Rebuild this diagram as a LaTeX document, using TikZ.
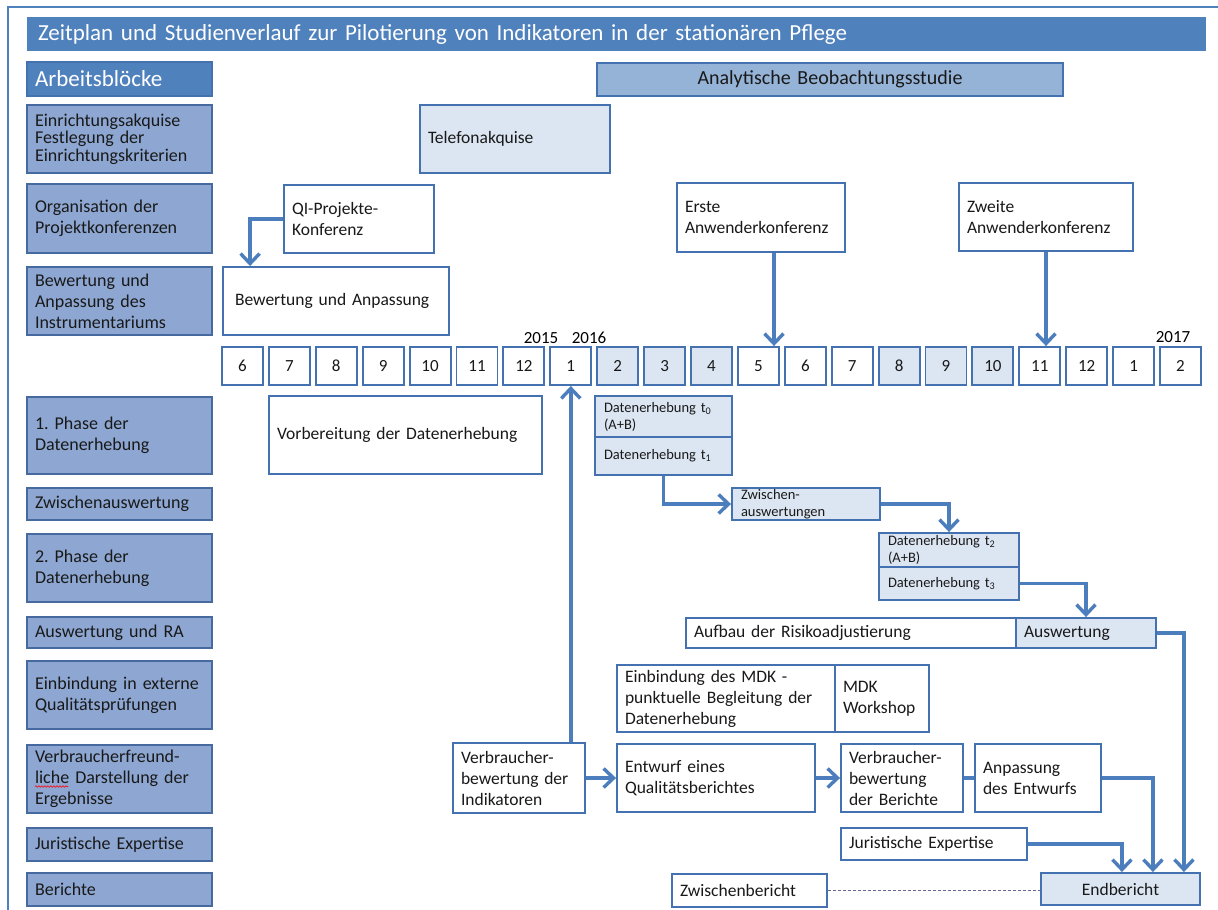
\documentclass[tikz,border=0pt]{standalone}
\usepackage{fontspec}
\setmainfont{Carlito}
\usetikzlibrary{arrows.meta,decorations.pathmorphing}

\definecolor{titleblue}{RGB}{79,129,189}
\definecolor{lineblue}{RGB}{68,114,176}
\definecolor{arrowblue}{RGB}{76,126,189}
\definecolor{catblue}{RGB}{141,167,210}
\definecolor{catline}{RGB}{70,106,160}
\definecolor{studyblue}{RGB}{149,179,215}
\definecolor{lightfill}{RGB}{220,230,242}

\newcommand{\bodysize}{\fontsize{17.5}{21}\selectfont}
\newcommand{\catsize}{\fontsize{18}{21}\selectfont}
\newcommand{\smallsize}{\fontsize{14.5}{17}\selectfont}
\frenchspacing

\begin{document}
\begin{tikzpicture}[
    x=1pt, y=-1pt,
    blk/.style={draw=lineblue, line width=1.9pt, fill=white, inner xsep=8pt, inner ysep=0pt, align=left, font=\bodysize, text=black!90},
    cat/.style={blk, fill=catblue, draw=catline, font=\catsize},
    light/.style={blk, fill=lightfill},
    month/.style={blk, align=center, minimum width=41pt, minimum height=38pt, inner xsep=0pt, font=\fontsize{17}{20}\selectfont},
    yr/.style={font=\fontsize{17}{20}\selectfont, inner sep=0pt},
    arrow/.style={draw=arrowblue, line width=3.4pt, -{Straight Barb[length=10pt, width=19pt]}},
    link/.style={draw=arrowblue, line width=3.4pt}
]
    \useasboundingbox (0,0) rectangle (1218,910);
    \draw[titleblue, line width=1.2pt] (8,910) -- (8,7) -- (1218,7);

    % Kopfzeilen
    \node[blk, fill=titleblue, draw=none, text=white, inner xsep=11pt, text width=1157pt, minimum height=34pt, font=\fontsize{23}{26}\selectfont] (title) at (616.5,34) {Zeitplan und Studienverlauf zur Pilotierung von Indikatoren in der stationären Pflege};
    \node[blk, fill=titleblue, text=white, text width=169pt, minimum height=34pt, font=\fontsize{23}{26}\selectfont] (bloecke) at (119.5,79) {Arbeitsblöcke};
    \node[blk, fill=studyblue, align=center, text width=450pt, minimum height=33pt, font=\fontsize{20}{23}\selectfont] (studie) at (830,79.5) {Analytische Beobachtungsstudie};

    % Arbeitsbloecke (linke Spalte)
    \node[cat, text width=169pt, minimum height=68pt, font=\fontsize{18}{17.5}\selectfont] (lc1) at (119.5,139) {Einrichtungsakquise\\Festlegung der\\Einrichtungskriterien};
    \node[cat, text width=169pt, minimum height=69pt] (lc2) at (119.5,218.5) {Organisation der\\Projektkonferenzen};
    \node[cat, text width=169pt, minimum height=68pt] (lc3) at (119.5,301) {Bewertung und\\Anpassung des\\Instrumentariums};
    \node[cat, text width=169pt, minimum height=77pt] (lc4) at (119.5,435.5) {1. Phase der\\Datenerhebung};
    \node[cat, text width=169pt, minimum height=32pt] (lc5) at (119.5,504) {Zwischenauswertung};
    \node[cat, text width=169pt, minimum height=68pt] (lc6) at (119.5,568) {2. Phase der\\Datenerhebung};
    \node[cat, text width=169pt, minimum height=31pt] (lc7) at (119.5,632.5) {Auswertung und RA};
    \node[cat, text width=169pt, minimum height=68pt] (lc8) at (119.5,695) {Einbindung in externe\\Qualitätsprüfungen};
    \node[cat, text width=169pt, minimum height=68pt] (lc9) at (119.5,779) {Verbraucherfreund-\\liche Darstellung der\\Ergebnisse};
    \node[cat, text width=169pt, minimum height=33pt] (lc10) at (119.5,844.5) {Juristische Expertise};
    \node[cat, text width=169pt, minimum height=33pt] (lc11) at (119.5,889.5) {Berichte};
    \draw[red, line width=0.6pt, decorate, decoration={snake, amplitude=0.8pt, segment length=3pt}] (35,786.5) -- (68,786.5);

    % Oberer Bereich
    \node[light, text width=174pt, minimum height=68pt] (tel) at (515,139) {Telefonakquise};
    \node[blk, text width=134pt, minimum height=68pt] (qi) at (359,219) {QI-Projekte-\\Konferenz};
    \node[blk, text width=152pt, minimum height=69pt] (erste) at (761,217.5) {Erste\\Anwenderkonferenz};
    \node[blk, text width=158pt, minimum height=68pt] (zweite) at (1046,217) {Zweite\\Anwenderkonferenz};
    \node[blk, text width=210pt, minimum height=68pt] (bew) at (336,301) {\hspace*{4pt}Bewertung und Anpassung};

    % Monate
    \foreach \m/\f [count=\i] in {6/white,7/white,8/white,9/white,10/white,11/white,12/white,1/white,2/lightfill,3/lightfill,4/lightfill,5/white,6/white,7/white,8/lightfill,9/lightfill,10/lightfill,11/white,12/white,1/white,2/white}
        \node[month, fill=\f] (m\i) at ({242.5+46.9*(\i-1)},366) {\m};
    \node[yr] (y15) at (541,338) {2015};
    \node[yr] (y16) at (589,338) {2016};
    \node[yr] (y17) at (1173,337) {2017};

    % Datenerhebung
    \node[blk, text width=257pt, minimum height=78pt] (vorb) at (405.5,435) {Vorbereitung der Datenerhebung};
    \node[light, font=\smallsize, inner xsep=9pt, text width=119pt, minimum height=41pt] (dt0) at (663.5,416.5) {Datenerhebung t\textsubscript{0}\\(A+B)};
    \node[light, font=\smallsize, inner xsep=9pt, text width=119pt, minimum height=38pt] (dt1) at (663.5,456) {Datenerhebung t\textsubscript{1}};
    \node[light, font=\smallsize, inner xsep=9pt, text width=130pt, minimum height=32pt] (zw) at (806,504) {Zwischen-\\auswertungen};
    \node[light, font=\smallsize, inner xsep=9pt, text width=122pt, minimum height=34pt] (dt2) at (949,550) {Datenerhebung t\textsubscript{2}\\(A+B)};
    \node[light, font=\smallsize, inner xsep=9pt, text width=122pt, minimum height=33pt] (dt3) at (949,583.5) {Datenerhebung t\textsubscript{3}};

    % Auswertung
    \node[blk, text width=314pt, minimum height=30pt] (aufbau) at (851,633) {Aufbau der Risikoadjustierung};
    \node[light, text width=124pt, minimum height=30pt] (ausw) at (1086,633) {Auswertung};

    % MDK und Berichte
    \node[blk, text width=202pt, minimum height=67pt] (mdk) at (726,698.5) {Einbindung des MDK -\\punktuelle Begleitung der\\Datenerhebung};
    \node[blk, text width=78pt, minimum height=67pt] (mdkws) at (882,698.5) {MDK\\Workshop};
    \node[blk, text width=116pt, minimum height=70pt] (vbi) at (519,778) {Verbraucher-\\bewertung der\\Indikatoren};
    \node[blk, text width=182pt, minimum height=68pt] (entw) at (716,778) {Entwurf eines\\Qualitätsberichtes};
    \node[blk, text width=106pt, minimum height=68pt] (vbb) at (902,778) {Verbraucher-\\bewertung\\der Berichte};
    \node[blk, text width=110pt, minimum height=68pt] (anp) at (1038,778) {Anpassung\\des Entwurfs};
    \node[blk, text width=170pt, minimum height=32pt] (jur) at (934,844) {Juristische Expertise};
    \node[blk, text width=139pt, minimum height=33pt] (zwb) at (749.5,890.5) {Zwischenbericht};
    \node[light, align=center, text width=143pt, minimum height=32pt] (endb) at (1120.5,889) {Endbericht};

    % Pfeile
    \draw[arrow] (qi.west) -| ([xshift=28pt]bew.north west);
    \draw[arrow] ([xshift=13pt]erste.south) -- ([xshift=13pt]erste.south |- m12.north);
    \draw[arrow] (zweite.south) -- (zweite.south |- m18.north);
    \draw[arrow] (vbi.north -| m8.south) -- (m8.south);
    \draw[arrow] (dt1.south) |- (zw.west);
    \draw[arrow] (zw.east) -| (dt2.north);
    \draw[arrow] (dt3.east) -| (ausw.north);
    \draw[arrow] (ausw.east) -| ([xshift=-17pt]endb.north east);
    \draw[arrow] (vbi.east) -- (entw.west);
    \draw[arrow] (entw.east) -- (vbb.west);
    \draw[link] (vbb.east) -- (anp.west);
    \draw[arrow] (anp.east) -| ([xshift=-48pt]endb.north east);
    \draw[arrow] (jur.east) -| ([xshift=-79pt]endb.north east);
    \draw[gray!80!blue, line width=0.8pt, densely dashed] (zwb.east) -- (zwb.east -| endb.west);

\end{tikzpicture}
\end{document}
